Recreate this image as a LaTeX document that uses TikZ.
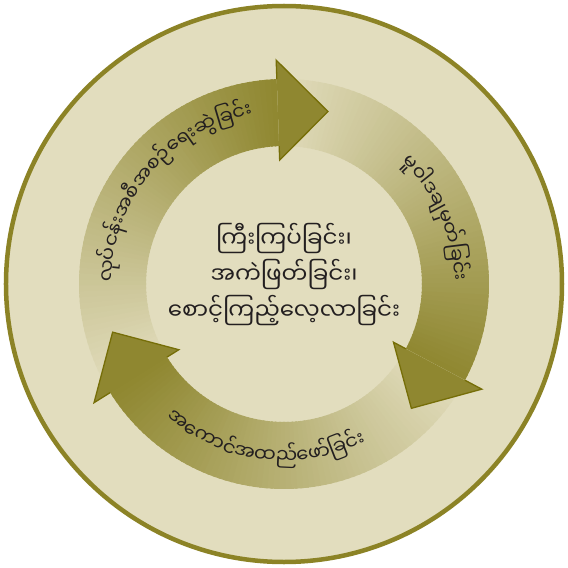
\documentclass[tikz,border=0pt]{standalone}
\usepackage{fontspec}
\newfontfamily\myfont[Script=Myanmar]{Noto Sans Myanmar UI}
\definecolor{bgc}{RGB}{226,221,190}
\definecolor{darkol}{RGB}{143,135,48}
\definecolor{edgeol}{RGB}{118,110,8}
\definecolor{borderol}{RGB}{140,131,38}
\definecolor{txt}{RGB}{35,31,32}
\newlength\chw
\newcommand\arcfont{\myfont\fontsize{19.5}{22}\selectfont}
\newcommand\centfont{\myfont\fontsize{23}{36}\selectfont}
% measure chunk widths (outside the picture)
\newcommand\measurelist[2]{%
  \gdef\arcW{0pt}%
  \foreach \ch [count=\k] in {#2}{%
    \settowidth\chw{\arcfont\ch}%
    \expandafter\xdef\csname w#1\k\endcsname{\the\chw}%
    \pgfmathsetmacro\tmpw{\arcW+\chw}\xdef\arcW{\tmpw pt}%
  }%
  \expandafter\xdef\csname W#1\endcsname{\arcW}}
\measurelist{a}{လုပ်,ငန်း,အ,စီ,အ,စဉ်,ရေး,ဆွဲ,ခြင်း}
\measurelist{b}{မူ,ဝါ,ဒ,ချ,မှတ်,ခြင်း}
\measurelist{c}{အ,ကောင်,အ,ထည်,ဖော်,ခြင်း}
% clockwise, tops outward
\newcommand\arctextcw[4]{%
  \pgfmathsetmacro\cura{#2+deg(\csname W#3\endcsname/#1pt)/2}\xdef\cura{\cura}%
  \foreach \ch [count=\k] in {#4}{%
    \pgfmathsetmacro\angA{\cura-deg(\csname w#3\k\endcsname/#1pt)/2}%
    \node[arcchunk, rotate=\angA-90] (#3\k) at (\angA:#1) {\ch};
    \pgfmathsetmacro\angN{\cura-deg(\csname w#3\k\endcsname/#1pt)}\xdef\cura{\angN}%
  }}
% counter-clockwise, tops inward
\newcommand\arctextccw[4]{%
  \pgfmathsetmacro\cura{#2-deg(\csname W#3\endcsname/#1pt)/2}\xdef\cura{\cura}%
  \foreach \ch [count=\k] in {#4}{%
    \pgfmathsetmacro\angA{\cura+deg(\csname w#3\k\endcsname/#1pt)/2}%
    \node[arcchunk, rotate=\angA+90] (#3\k) at (\angA:#1) {\ch};
    \pgfmathsetmacro\angN{\cura+deg(\csname w#3\k\endcsname/#1pt)}\xdef\cura{\angN}%
  }}
\newcommand\arrowbody[2]{%
  \foreach \i in {0,...,71}{%
    \pgfmathsetmacro\aS{#1+(#2-#1)*\i/72}%
    \pgfmathsetmacro\aE{#1+(#2-#1)*(\i+1.4)/72}%
    \pgfmathsetmacro\pc{100*(\i+0.5)/72}%
    \fill[darkol!\pc!bgc] (\aS:205) arc[start angle=\aS, end angle=\aE, radius=205]
      -- (\aE:138) arc[start angle=\aE, end angle=\aS, radius=138] -- cycle;
  }}
\newcommand\arrowheadol[2]{%
  \fill[darkol] (#1:205) -- (#1:224) -- (#2:178) -- (#1:124) -- (#1:138) -- cycle;
  \draw[edgeol, line width=1.3pt, line join=miter] (#1:205) -- (#1:224) -- (#2:178) -- (#1:124) -- (#1:138);
}
\begin{document}
\begin{tikzpicture}[x=1pt,y=1pt,
  arcchunk/.style={inner sep=0pt, outer sep=0pt, anchor=mid, font=\arcfont, text=txt}]
\useasboundingbox (-284,-284) rectangle (284,284);
\fill[white] (-284,-284) rectangle (284,284);
\filldraw[fill=bgc, draw=borderol, line width=4.5pt] (0,0) circle[radius=278];
% arrow bodies
\arrowbody{212}{92}
\arrowbody{92}{-28}
\arrowbody{-28}{-148}
% arrow heads
\arrowheadol{92}{75.7}
\arrowheadol{-28}{-44.3}
\arrowheadol{212}{195.7}
% arc texts
\arctextcw{172}{140}{a}{လုပ်,ငန်း,အ,စီ,အ,စဉ်,ရေး,ဆွဲ,ခြင်း}
\arctextcw{170}{23.5}{b}{မူ,ဝါ,ဒ,ချ,မှတ်,ခြင်း}
\arctextccw{177}{263}{c}{အ,ကောင်,အ,ထည်,ဖော်,ခြင်း}
% centre text
\node[align=center, font=\centfont, text=txt, inner sep=0pt] (ctr) at (0,9)
  {ကြီးကြပ်ခြင်း၊\\အကဲဖြတ်ခြင်း၊\\စောင့်ကြည့်လေ့လာခြင်း};
\end{tikzpicture}
\end{document}
